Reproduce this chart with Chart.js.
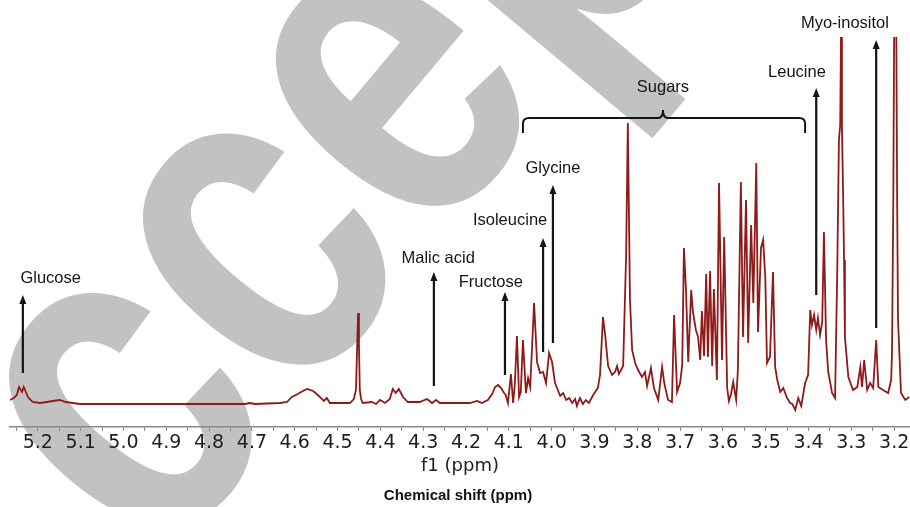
<!DOCTYPE html>
<html>
<head>
<meta charset="utf-8">
<script src="https://cdn.jsdelivr.net/npm/chart.js@4.4.1/dist/chart.umd.min.js"></script>
<style>
  html, body { margin: 0; padding: 0; background: #fff; }
  #wrap { width: 910px; height: 507px; }
</style>
</head>
<body>
<div id="wrap"><canvas id="nmr" width="910" height="507"></canvas></div>
<script>
// chemical shift (ppm) and intensity (arbitrary units)
const shiftPpm = [
  5.265, 5.256, 5.249, 5.244, 5.237, 5.233, 5.228, 5.223, 5.212, 5.195, 5.179, 5.165, 5.149, 5.135, 5.118, 5.102,
  5.008, 4.915, 4.822, 4.716, 4.705, 4.693, 4.635, 4.618, 4.607, 4.593, 4.581, 4.571, 4.557, 4.546, 4.536, 4.532,
  4.525, 4.518, 4.471, 4.462, 4.457, 4.455, 4.452, 4.450, 4.448, 4.445, 4.441, 4.420, 4.410, 4.401, 4.389, 4.378,
  4.371, 4.364, 4.357, 4.347, 4.336, 4.308, 4.291, 4.279, 4.270, 4.261, 4.191, 4.174, 4.163, 4.149, 4.139, 4.132,
  4.125, 4.118, 4.111, 4.107, 4.102, 4.095, 4.090, 4.086, 4.081, 4.076, 4.072, 4.067, 4.060, 4.055, 4.050, 4.041,
  4.034, 4.027, 4.020, 4.013, 4.006, 3.999, 3.992, 3.980, 3.973, 3.966, 3.959, 3.952, 3.945, 3.941, 3.934, 3.927,
  3.920, 3.913, 3.903, 3.892, 3.887, 3.880, 3.875, 3.868, 3.859, 3.852, 3.847, 3.843, 3.838, 3.833, 3.826, 3.822,
  3.817, 3.812, 3.805, 3.798, 3.789, 3.782, 3.777, 3.768, 3.761, 3.751, 3.742, 3.737, 3.728, 3.719, 3.714, 3.707,
  3.700, 3.695, 3.691, 3.686, 3.681, 3.674, 3.670, 3.663, 3.658, 3.653, 3.649, 3.644, 3.639, 3.635, 3.630, 3.625,
  3.621, 3.614, 3.609, 3.602, 3.597, 3.590, 3.586, 3.581, 3.576, 3.569, 3.565, 3.558, 3.553, 3.546, 3.541, 3.534,
  3.529, 3.522, 3.518, 3.511, 3.506, 3.501, 3.497, 3.490, 3.483, 3.478, 3.473, 3.466, 3.459, 3.450, 3.443, 3.438,
  3.431, 3.424, 3.417, 3.408, 3.401, 3.396, 3.392, 3.387, 3.382, 3.378, 3.373, 3.368, 3.364, 3.359, 3.354, 3.345,
  3.338, 3.333, 3.329, 3.326, 3.324, 3.322, 3.319, 3.317, 3.315, 3.307, 3.296, 3.286, 3.279, 3.275, 3.270, 3.263,
  3.256, 3.249, 3.242, 3.237, 3.226, 3.214, 3.207, 3.205, 3.202, 3.200, 3.195, 3.193, 3.191, 3.184, 3.174, 3.165,
];
const intensity = [
  27, 29, 32, 40, 35, 40, 35, 30, 25, 24, 25, 26, 27, 25, 24, 23,
  23, 23, 23, 23, 24, 23, 24, 25, 30, 33, 36, 38, 36, 32, 28, 26,
  29, 24, 24, 28, 37, 67, 114, 82, 37, 28, 24, 25, 23, 27, 24, 28,
  38, 34, 38, 30, 25, 25, 28, 24, 27, 24, 24, 26, 24, 27, 33, 40,
  42, 39, 34, 32, 24, 53, 24, 42, 91, 30, 35, 87, 34, 49, 40, 124,
  65, 54, 55, 44, 74, 65, 44, 31, 34, 27, 29, 24, 28, 21, 29, 23,
  27, 24, 32, 39, 52, 110, 92, 61, 52, 55, 61, 53, 57, 61, 172, 304,
  127, 77, 64, 57, 50, 55, 41, 59, 39, 27, 60, 44, 27, 25, 112, 35,
  44, 62, 179, 135, 65, 137, 115, 97, 90, 67, 116, 71, 153, 70, 156, 61,
  138, 47, 244, 67, 190, 39, 26, 33, 45, 27, 57, 245, 90, 227, 84, 202,
  124, 264, 95, 179, 187, 150, 64, 70, 155, 60, 47, 35, 39, 29, 24, 23,
  17, 29, 21, 44, 52, 117, 102, 112, 97, 109, 92, 105, 195, 87, 55, 34,
  29, 154, 287, 302, 397, 302, 227, 167, 90, 50, 37, 40, 60, 40, 67, 37,
  44, 39, 87, 40, 37, 34, 47, 74, 227, 397, 397, 227, 107, 34, 27, 30,
];

const majorTicks = [5.2, 5.1, 5.0, 4.9, 4.8, 4.7, 4.6, 4.5, 4.4, 4.3, 4.2, 4.1, 4.0, 3.9, 3.8, 3.7, 3.6, 3.5, 3.4, 3.3, 3.2];
const minorTicks = [5.25, 5.15, 5.05, 4.95, 4.85, 4.75, 4.65, 4.55, 4.45, 4.35, 4.25, 4.15, 4.05, 3.95, 3.85, 3.75, 3.65, 3.55, 3.45, 3.35, 3.25];

// annotated metabolites: arrow position, arrow foot / head level, label anchor
const metaboliteNames = ['Glucose', 'Malic acid', 'Fructose', 'Isoleucine', 'Glycine', 'Leucine', 'Myo-inositol'];
const arrowPpm = [5.235, 4.275, 4.109, 4.020, 3.997, 3.382, 3.242];
const arrowFoot = [54, 41, 52, 75, 84, 132, 99];
const arrowHead = [132, 155, 135, 189, 242, 339, 387];
const labelPpm = [5.170, 4.265, 4.142, 4.097, 3.997, 3.427, 3.315];
const labelLevel = [149, 169, 145, 207, 259, 355, 404];

const sugarsRange = [4.067, 3.408];
const sugarsCentre = 3.740;

const watermark = {
  id: 'watermark',
  beforeDraw(chart) {
    const { ctx } = chart;
    ctx.save();
    ctx.translate(-16, 780);
    ctx.rotate(-50 * Math.PI / 180);
    ctx.scale(0.78, 1);
    ctx.font = 'bold 480px "Liberation Sans", Arial, sans-serif';
    ctx.fillStyle = '#c2c2c2';
    ctx.textBaseline = 'alphabetic';
    ctx.fillText('Accepted', 0, 0);
    ctx.restore();
  },
};

const annotations = {
  id: 'annotations',
  afterDatasetsDraw(chart) {
    const { ctx, scales: { x, y } } = chart;
    ctx.save();
    ctx.strokeStyle = '#141414';
    ctx.fillStyle = '#141414';
    ctx.lineWidth = 2.2;
    ctx.font = '16.5px "Liberation Sans", Arial, sans-serif';
    ctx.textAlign = 'center';
    ctx.textBaseline = 'middle';

    metaboliteNames.forEach((name, i) => {
      const px = x.getPixelForValue(arrowPpm[i]);
      const foot = y.getPixelForValue(arrowFoot[i]);
      const head = y.getPixelForValue(arrowHead[i]);
      ctx.beginPath();
      ctx.moveTo(px, foot);
      ctx.lineTo(px, head + 7);
      ctx.stroke();
      ctx.beginPath();
      ctx.moveTo(px, head);
      ctx.lineTo(px - 3.5, head + 9);
      ctx.lineTo(px + 3.5, head + 9);
      ctx.closePath();
      ctx.fill();
      ctx.fillText(name, x.getPixelForValue(labelPpm[i]), y.getPixelForValue(labelLevel[i]));
    });

    // curly bracket over the sugar region
    const x1 = x.getPixelForValue(sugarsRange[0]);
    const x2 = x.getPixelForValue(sugarsRange[1]);
    const xm = x.getPixelForValue(sugarsCentre);
    const yb = y.getPixelForValue(309);
    const yEnd = y.getPixelForValue(294);
    const yTip = y.getPixelForValue(317);
    ctx.lineWidth = 2;
    ctx.beginPath();
    ctx.moveTo(x1, yEnd);
    ctx.lineTo(x1, yb + 6);
    ctx.quadraticCurveTo(x1, yb, x1 + 6, yb);
    ctx.lineTo(xm - 5, yb);
    ctx.quadraticCurveTo(xm, yb, xm, yTip);
    ctx.quadraticCurveTo(xm, yb, xm + 5, yb);
    ctx.lineTo(x2 - 6, yb);
    ctx.quadraticCurveTo(x2, yb, x2, yb + 6);
    ctx.lineTo(x2, yEnd);
    ctx.stroke();
    ctx.fillText('Sugars', xm, y.getPixelForValue(340));
    ctx.restore();
  },
  afterDraw(chart) {
    const { ctx } = chart;
    ctx.save();
    ctx.fillStyle = '#111';
    ctx.font = 'bold 15px "Liberation Sans", Arial, sans-serif';
    ctx.textAlign = 'center';
    ctx.textBaseline = 'middle';
    ctx.fillText('Chemical shift (ppm)', 458, 496);
    ctx.restore();
  },
};

new Chart(document.getElementById('nmr'), {
  type: 'line',
  data: {
    datasets: [{
      data: shiftPpm.map((v, i) => ({ x: v, y: intensity[i] })),
      borderColor: '#8e1a1a',
      borderWidth: 1.8,
      pointRadius: 0,
      tension: 0,
      fill: false,
    }],
  },
  options: {
    responsive: false,
    animation: false,
    devicePixelRatio: 1,
    layout: { padding: { top: 37, left: 10, right: 0, bottom: 0 } },
    plugins: { legend: { display: false }, tooltip: { enabled: false } },
    scales: {
      x: {
        type: 'linear',
        reverse: true,
        min: 3.163,
        max: 5.265,
        afterBuildTicks(scale) {
          scale.ticks = majorTicks.concat(minorTicks).sort((a, b) => a - b).map((value) => ({ value }));
        },
        afterFit(scale) {
          scale.height = 80;
        },
        border: { color: '#8a8a8a', width: 1.5 },
        grid: { drawOnChartArea: false, tickLength: 4, color: '#8a8a8a' },
        ticks: {
          autoSkip: false,
          maxRotation: 0,
          padding: 1,
          color: '#1e1e1e',
          font: { family: '"DejaVu Sans", Verdana, sans-serif', size: 19 },
          callback(value) {
            return majorTicks.some((t) => Math.abs(t - value) < 1e-6) ? Number(value).toFixed(1) : '';
          },
        },
        title: {
          display: true,
          text: 'f1 (ppm)',
          color: '#1e1e1e',
          font: { family: '"DejaVu Sans", Verdana, sans-serif', size: 18 },
          padding: { top: 0, bottom: 30 },
        },
      },
      y: { display: false, min: 0, max: 390 },
    },
  },
  plugins: [watermark, annotations],
});
</script>
</body>
</html>
